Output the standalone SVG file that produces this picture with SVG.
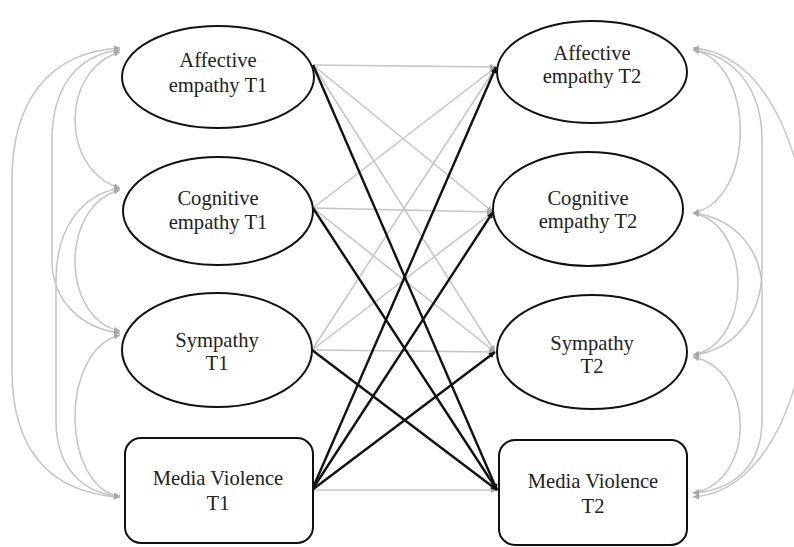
<svg xmlns="http://www.w3.org/2000/svg" width="794" height="547" viewBox="0 0 794 547">
<style>
.node{fill:#fff;stroke:#111;stroke-width:2}
.lbl{font-family:"Liberation Serif","Times New Roman",serif;font-size:20.6px;fill:#222;text-anchor:middle}
.g{stroke:#c4c4c4;stroke-width:1.5;fill:none;marker-end:url(#ag)}
.b{stroke:#111;stroke-width:2.4;fill:none;marker-end:url(#ab)}
.c{stroke:#c4c4c4;stroke-width:1.5;fill:none;marker-start:url(#ag);marker-end:url(#ag)}
</style>
<defs>
<marker id="ag" viewBox="0 0 10 10" refX="10" refY="5" markerWidth="8" markerHeight="6" markerUnits="userSpaceOnUse" orient="auto-start-reverse"><path d="M0,0 L10,5 L0,10 z" fill="#a8a8a8"/></marker>
<marker id="ab" viewBox="0 0 10 10" refX="10" refY="5" markerWidth="8" markerHeight="6" markerUnits="userSpaceOnUse" orient="auto"><path d="M0,0 L10,5 L0,10 z" fill="#111"/></marker>
</defs>
<rect width="794" height="547" fill="#fff"/>
<g id="connectors">
<path class="c" d="M120,52 C60,70 60,170 120,188"/>
<path class="c" d="M120,50 C75,55 52,90 52,140 L52,260 C52,300 80,328 120,333"/>
<path class="c" d="M120,48 C50,52 12,100 12,180 L12,370 C12,450 50,493 120,497"/>
<path class="c" d="M120,190 C60,205 60,318 120,331"/>
<path class="c" d="M120,188 C80,195 56,230 56,280 L56,420 C56,470 85,494 120,496"/>
<path class="c" d="M120,335 C60,350 60,485 120,497"/>
<path class="c" d="M693,50 C756,62 756,200 693,213"/>
<path class="c" d="M693,50 C735,55 762,90 762,140 L762,270 C762,315 735,350 693,355"/>
<path class="c" d="M693,48 C849,60 849,485 693,497"/>
<path class="c" d="M693,213 C753,225 753,343 693,355"/>
<path class="c" d="M693,213 C735,218 762,250 762,290 L762,420 C762,465 735,490 693,493"/>
<path class="c" d="M693,357 C756,370 756,482 693,493"/>
<line class="g" x1="313" y1="65" x2="496" y2="67"/>
<line class="g" x1="313" y1="65" x2="493" y2="212"/>
<line class="g" x1="313" y1="65" x2="495" y2="352"/>
<line class="g" x1="313" y1="208" x2="496" y2="67"/>
<line class="g" x1="313" y1="208" x2="493" y2="212"/>
<line class="g" x1="313" y1="208" x2="495" y2="352"/>
<line class="g" x1="312" y1="350" x2="496" y2="67"/>
<line class="g" x1="312" y1="350" x2="493" y2="212"/>
<line class="g" x1="312" y1="350" x2="495" y2="352"/>
<line class="g" x1="312" y1="490" x2="497" y2="490"/>
<line class="b" x1="313" y1="65" x2="497" y2="490"/>
<line class="b" x1="313" y1="208" x2="497" y2="490"/>
<line class="b" x1="312" y1="350" x2="497" y2="490"/>
<line class="b" x1="312" y1="490" x2="496" y2="67"/>
<line class="b" x1="312" y1="490" x2="493" y2="212"/>
<line class="b" x1="312" y1="490" x2="495" y2="352"/>
</g>
<g id="affective-t1"><ellipse class="node" cx="218" cy="77" rx="96" ry="51"/><text class="lbl" x="218" y="67">Affective</text><text class="lbl" x="218" y="92">empathy T1</text></g>
<g id="cognitive-t1"><ellipse class="node" cx="218" cy="211" rx="95" ry="54"/><text class="lbl" x="218" y="205">Cognitive</text><text class="lbl" x="218" y="229">empathy T1</text></g>
<g id="sympathy-t1"><ellipse class="node" cx="217" cy="350" rx="95" ry="57"/><text class="lbl" x="217" y="347">Sympathy</text><text class="lbl" x="217" y="370">T1</text></g>
<g id="media-t1"><rect class="node" x="125" y="438" width="188" height="105" rx="16"/><text class="lbl" x="218" y="485">Media Violence</text><text class="lbl" x="218" y="510">T1</text></g>
<g id="affective-t2"><ellipse class="node" cx="592" cy="72" rx="95" ry="51"/><text class="lbl" x="592" y="60">Affective</text><text class="lbl" x="592" y="83">empathy T2</text></g>
<g id="cognitive-t2"><ellipse class="node" cx="588" cy="209" rx="95" ry="57"/><text class="lbl" x="588" y="205">Cognitive</text><text class="lbl" x="588" y="228">empathy T2</text></g>
<g id="sympathy-t2"><ellipse class="node" cx="592" cy="352" rx="95" ry="57"/><text class="lbl" x="592" y="350">Sympathy</text><text class="lbl" x="592" y="373">T2</text></g>
<g id="media-t2"><rect class="node" x="499" y="440" width="188" height="105" rx="16"/><text class="lbl" x="593" y="488">Media Violence</text><text class="lbl" x="593" y="513">T2</text></g>
</svg>
